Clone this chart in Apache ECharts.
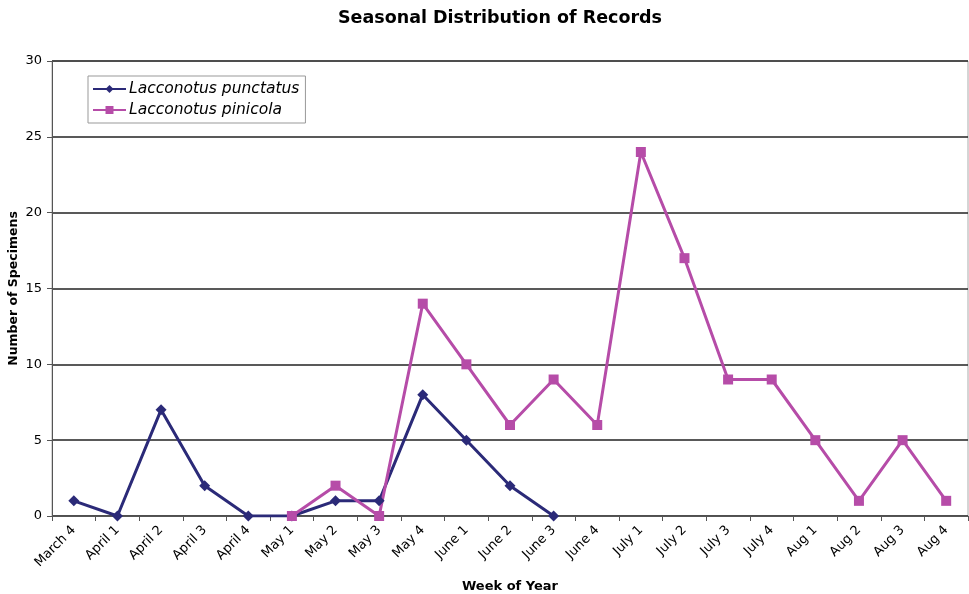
<!DOCTYPE html>
<html>
<head>
<meta charset="utf-8">
<script src="https://cdn.jsdelivr.net/npm/echarts@6/dist/echarts.min.js"></script>
<style>html,body{margin:0;padding:0;background:#fff}#c{width:969px;height:594px}</style>
</head>
<body>
<div id="c"></div>
<script>
const weeks = ["March 4","April 1","April 2","April 3","April 4","May 1","May 2","May 3","May 4","June 1","June 2","June 3","June 4","July 1","July 2","July 3","July 4","Aug 1","Aug 2","Aug 3","Aug 4"];
const punctatus = [1,0,7,2,0,0,1,1,8,5,2,0,null,null,null,null,null,null,null,null,null];
const pinicola = [null,null,null,null,null,0,2,0,14,10,6,9,6,24,17,9,9,5,1,5,1];
const yTicks = [0,5,10,15,20,25,30];

const font = '"DejaVu Sans", Verdana, sans-serif';
const chart = echarts.init(document.getElementById('c'), null, {renderer:'canvas'});
chart.setOption({
  animation:false,
  backgroundColor:'#fff',
  title:{text:'Seasonal Distribution of Records', left:333, top:4,
    textStyle:{fontFamily:font, fontSize:17.5, fontWeight:'bold', color:'#000'}},
  legend:{
    orient:'vertical', left:88, top:76, itemWidth:33, itemHeight:10, itemGap:5,
    padding:[5,6,5,4], borderColor:'#999', borderWidth:1, backgroundColor:'#fff',
    textStyle:{fontFamily:font, fontSize:15.5, fontStyle:'italic', color:'#000', padding:[0,0,0,-2]},
    data:['Lacconotus punctatus','Lacconotus pinicola']
  },
  grid:{left:52, right:1, top:61, bottom:78, outerBoundsMode:'none', containLabel:false,
    show:true, borderColor:'#aaa', borderWidth:1},
  xAxis:{
    type:'category', data:weeks, boundaryGap:true,
    name:'Week of Year', nameLocation:'middle', nameGap:64,
    nameTextStyle:{fontFamily:font, fontSize:13, fontWeight:'bold', color:'#000'},
    axisLine:{lineStyle:{color:'#555', width:1}},
    axisTick:{show:true, alignWithLabel:false, length:5, lineStyle:{color:'#555'}},
    axisLabel:{rotate:45, fontFamily:font, fontSize:13, color:'#000', margin:12, interval:0},
    splitLine:{show:false}
  },
  yAxis:{
    type:'value', min:0, max:30, interval:5,
    name:'Number of Specimens', nameLocation:'middle', nameGap:32, nameRotate:90,
    nameMoveOverlap:false,
    nameTextStyle:{fontFamily:font, fontSize:12.5, fontWeight:'bold', color:'#000'},
    axisLine:{show:true, lineStyle:{color:'#555'}},
    axisTick:{show:true, length:5, lineStyle:{color:'#555'}},
    axisLabel:{fontFamily:font, fontSize:13, color:'#000', margin:10,
      formatter:function(v){return yTicks.indexOf(v)>=0 ? String(v) : '';}},
    splitLine:{show:true, lineStyle:{color:'#222', width:1.5}}
  },
  series:[
    {name:'Lacconotus punctatus', type:'line', data:punctatus, connectNulls:false,
      symbol:'diamond', symbolSize:11, color:'#2B2A78',
      lineStyle:{width:3, color:'#2B2A78'}, itemStyle:{color:'#2B2A78'}},
    {name:'Lacconotus pinicola', type:'line', data:pinicola, connectNulls:false,
      symbol:'rect', symbolSize:10, color:'#B64CA8',
      lineStyle:{width:3, color:'#B64CA8'}, itemStyle:{color:'#B64CA8'}}
  ]
});
</script>
</body>
</html>
